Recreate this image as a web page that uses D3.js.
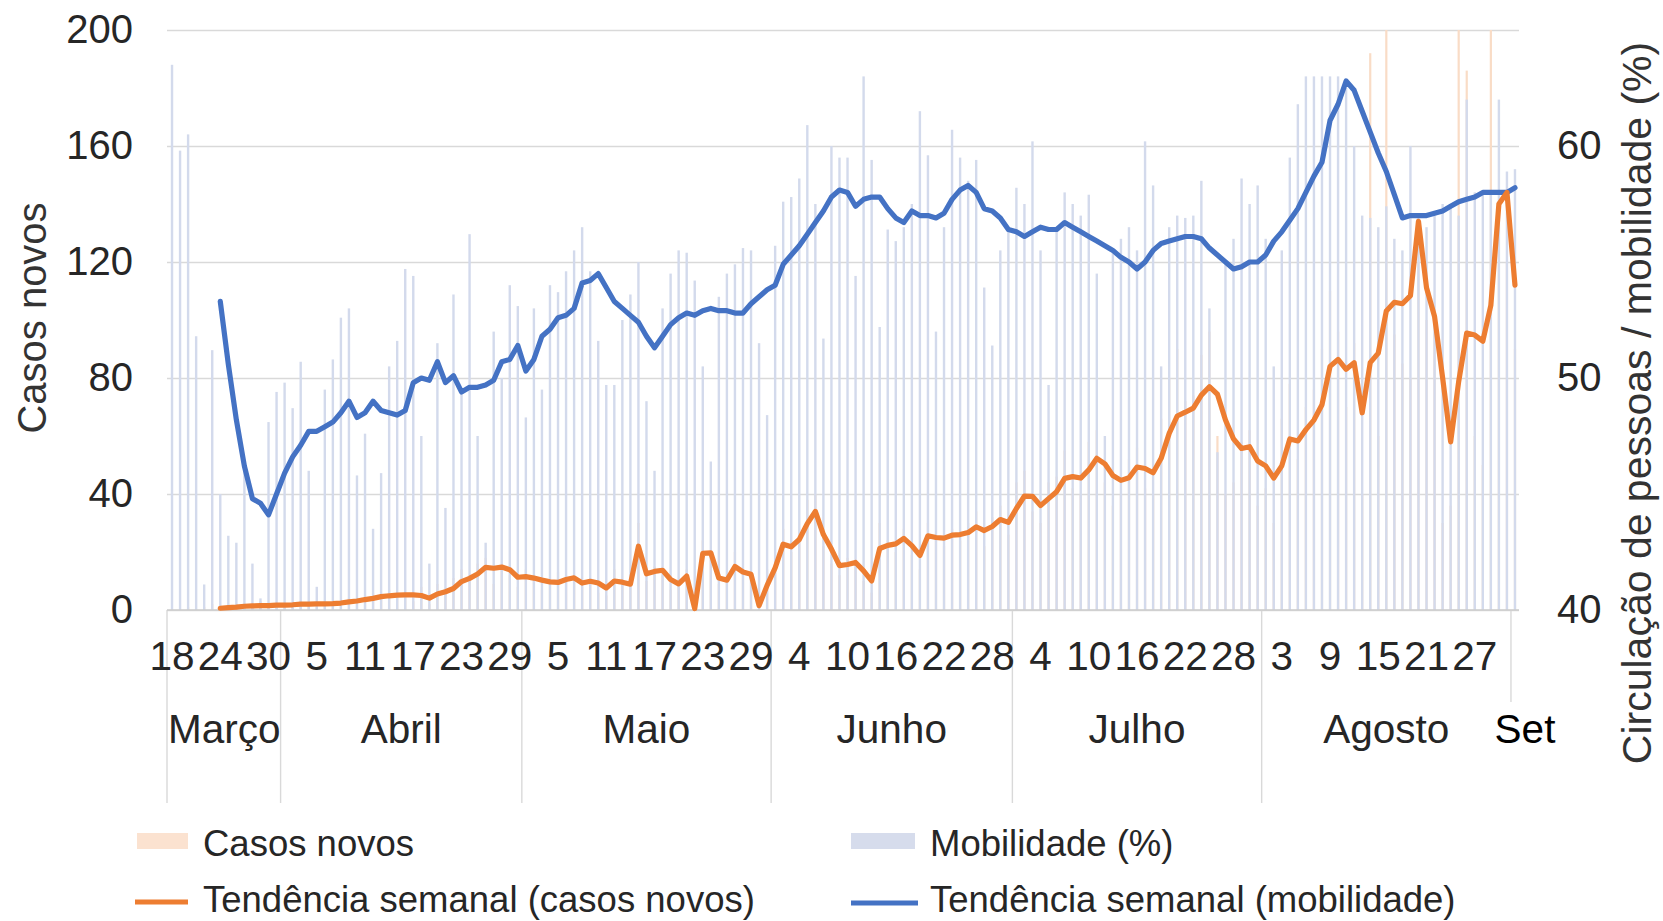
<!DOCTYPE html>
<html>
<head>
<meta charset="utf-8">
<script src="https://cdn.jsdelivr.net/npm/d3@7"></script>
<style>
body { margin: 0; background: #fff; }
text { font-family: "Liberation Sans", Arial, sans-serif; }
</style>
</head>
<body>
<svg id="chart" width="1663" height="921"></svg>
<script>
// daily categories: 18 March .. 1 September
var startDate = new Date(2020, 2, 18);
var nDays = 168;

// mobility (%), right axis, one bar per day
var mobilidade = [
  63.5, 59.8, 60.5, 51.8, 41.1, 51.2, 45.0, 43.2, 42.9, 46.0, 42.0, 40.5, 48.1, 49.4,
  49.8, 48.7, 50.7, 46.0, 41.0, 49.5, 50.8, 52.6, 53.0, 45.8, 47.6, 43.5, 45.9, 50.5,
  51.6, 54.7, 54.4, 47.5, 42.0, 51.5, 44.4, 53.6, 49.5, 56.2, 47.5, 42.9, 52.0, 50.0,
  54.0, 53.1, 48.3, 53.0, 49.5, 54.0, 53.7, 54.6, 55.5, 56.5, 54.6, 51.6, 49.7, 49.7,
  52.5, 53.6, 55.0, 49.0, 46.0, 53.0, 54.5, 55.5, 55.4, 54.2, 50.5, 46.4, 53.5, 54.5,
  54.9, 55.6, 55.5, 51.5, 48.4, 55.7, 57.6, 57.8, 58.6, 60.9, 57.5, 51.7, 60.0, 59.5,
  59.5, 54.4, 63.0, 59.4, 52.2, 56.4, 55.9, 56.5, 57.5, 61.5, 59.6, 52.0, 56.5, 60.7,
  59.5, 58.5, 59.4, 53.9, 51.4, 55.5, 56.5, 58.2, 57.5, 60.2, 55.5, 49.7, 56.5, 58.0,
  57.5, 57.0, 57.9, 54.5, 47.5, 55.5, 56.0, 56.5, 55.5, 60.2, 58.3, 50.5, 56.5, 57.0,
  56.9, 57.0, 58.5, 53.0, 46.8, 55.0, 56.0, 58.6, 57.5, 58.3, 56.0, 50.5, 55.5, 59.5,
  61.8, 63.0, 63.0, 63.0, 63.0, 63.0, 62.5, 60.0, 57.0, 56.9, 56.5, 57.4, 56.0, 55.5,
  60.0, 57.0, 56.5, 57.0, 57.5, 57.5, 57.0, 62.0, 58.0, 58.0, 58.0, 62.0, 58.9, 59.0
];

// new cases, left axis, one bar per day
var casosNovos = [
  0, 0, 1, 0, 1, 2, 1, 0, 2, 1, 2, 3, 1, 2,
  2, 1, 3, 2, 1, 3, 2, 3, 4, 2, 5, 6, 4, 7,
  5, 6, 3, 8, 2, 9, 6, 11, 14, 10, 16, 18, 9, 15,
  12, 8, 14, 10, 7, 9, 13, 12, 10, 8, 11, 6, 5, 14,
  9, 8, 30, 10, 15, 12, 7, 10, 14, 0, 24, 18, 9, 11,
  20, 12, 10, 0, 14, 18, 28, 20, 26, 38, 40, 22, 16, 12,
  18, 15, 10, 6, 30, 24, 20, 28, 19, 14, 30, 26, 22, 28,
  24, 30, 34, 22, 32, 36, 26, 44, 48, 34, 30, 44, 46, 55,
  42, 40, 58, 62, 44, 36, 40, 52, 56, 42, 40, 66, 80, 90,
  72, 74, 88, 96, 60, 40, 44, 58, 62, 36, 42, 30, 66, 78,
  52, 70, 76, 90, 110, 96, 70, 92, 40, 192, 60, 205, 95, 85,
  80, 120, 100, 96, 30, 36, 210, 186, 60, 50, 215, 130, 120, 90
];

// weekly trends start on the 7th day (24 March)
var trendStart = 6;
var tendCasos = [
  0.6, 0.8, 1.0, 1.3, 1.4, 1.5, 1.5, 1.7, 1.7, 1.8, 2.0, 2.0, 2.1, 2.1,
  2.2, 2.4, 2.8, 3.1, 3.6, 4.0, 4.6, 4.9, 5.1, 5.2, 5.2, 5.0, 4.1, 5.5,
  6.3, 7.4, 9.8, 10.9, 12.4, 14.7, 14.4, 14.8, 13.9, 11.3, 11.5, 11.0, 10.3, 9.7,
  9.5, 10.5, 11.1, 9.3, 9.9, 9.3, 7.6, 10.0, 9.6, 8.9, 22.0, 12.5, 13.3, 13.7,
  10.5, 9.0, 11.7, 0.5, 19.5, 19.7, 11.0, 10.3, 15.0, 13.1, 12.3, 1.5, 8.5, 14.5,
  22.7, 21.8, 24.3, 29.8, 34.0, 26.0, 21.0, 15.3, 15.7, 16.4, 13.5, 10.0, 21.2, 22.3,
  22.8, 24.7, 22.2, 18.8, 25.6, 25.0, 24.8, 25.8, 26.0, 26.7, 28.7, 27.4, 28.8, 31.2,
  30.2, 35.0, 39.3, 39.2, 36.0, 38.4, 40.8, 45.4, 46.0, 45.5, 48.3, 52.3, 50.4, 46.4,
  44.7, 45.6, 49.3, 48.8, 47.3, 52.3, 60.9, 66.9, 68.2, 69.6, 74.1, 77.0, 74.4, 65.5,
  59.0, 55.7, 56.3, 51.4, 49.7, 45.5, 49.7, 59.0, 58.3, 62.2, 65.5, 70.8, 84.0, 86.4,
  83.0, 85.3, 68.0, 85.3, 88.6, 103.1, 106.1, 105.6, 108.4, 134.0, 111.1, 101.2, 80.1, 58.0,
  78.8, 95.5, 94.8, 92.7, 105.1, 140.0, 144.0, 112.0
];
var tendMob = [
  53.3, 50.6, 48.2, 46.2, 44.8, 44.6, 44.1, 45.0, 45.9, 46.6, 47.1, 47.7, 47.7, 47.9,
  48.1, 48.5, 49.0, 48.3, 48.5, 49.0, 48.6, 48.5, 48.4, 48.6, 49.8, 50.0, 49.9, 50.7,
  49.8, 50.1, 49.4, 49.6, 49.6, 49.7, 49.9, 50.7, 50.8, 51.4, 50.3, 50.8, 51.8, 52.1,
  52.6, 52.7, 53.0, 54.1, 54.2, 54.5, 53.9, 53.3, 53.0, 52.7, 52.4, 51.8, 51.3, 51.8,
  52.3, 52.6, 52.8, 52.7, 52.9, 53.0, 52.9, 52.9, 52.8, 52.8, 53.2, 53.5, 53.8, 54.0,
  54.9, 55.3, 55.7, 56.2, 56.7, 57.2, 57.8, 58.1, 58.0, 57.4, 57.7, 57.8, 57.8, 57.3,
  56.9, 56.7, 57.2, 57.0, 57.0, 56.9, 57.1, 57.7, 58.1, 58.3, 58.0, 57.3, 57.2, 56.9,
  56.4, 56.3, 56.1, 56.3, 56.5, 56.4, 56.4, 56.7, 56.5, 56.3, 56.1, 55.9, 55.7, 55.5,
  55.2, 55.0, 54.7, 55.0, 55.5, 55.8, 55.9, 56.0, 56.1, 56.1, 56.0, 55.6, 55.3, 55.0,
  54.7, 54.8, 55.0, 55.0, 55.3, 55.9, 56.3, 56.8, 57.3, 58.0, 58.7, 59.3, 61.1, 61.8,
  62.8, 62.4, 61.5, 60.6, 59.7, 58.9, 57.9, 56.9, 57.0, 57.0, 57.0, 57.1, 57.2, 57.4,
  57.6, 57.7, 57.8, 58.0, 58.0, 58.0, 58.0, 58.2
];

// axis labels
var dayTicks = ['18', '24', '30', '5', '11', '17', '23', '29', '5', '11', '17', '23', '29',
  '4', '10', '16', '22', '28', '4', '10', '16', '22', '28', '3', '9', '15', '21', '27'];
var months = ['Março', 'Abril', 'Maio', 'Junho', 'Julho', 'Agosto', 'Set'];
var monthDays = [14, 30, 31, 30, 31, 31, 1];
var leftTicks = [0, 40, 80, 120, 160, 200];
var rightTicks = [40, 50, 60];

var svg = d3.select('#chart');
var pLeft = 168, pRight = 1519, pTop = 30, pBottom = 610;

var days = d3.range(nDays).map(function (i) { return d3.timeDay.offset(startDate, i); });
var x = d3.scaleBand().domain(d3.range(nDays)).range([pLeft, pRight]);
var bw = x.bandwidth();
var cx = function (i) { return x(i) + bw / 2; };
var yL = d3.scaleLinear().domain([0, 200]).range([pBottom, pTop]);
var yR = d3.scaleLinear().domain([40, 65]).range([pBottom, pTop]);

// gridlines + left labels
var gl = svg.append('g').attr('transform', 'translate(167,0)')
  .call(d3.axisLeft(yL).tickValues(leftTicks).tickSize(-(pRight - 167)).tickPadding(34));
gl.select('.domain').remove();
gl.selectAll('line').attr('stroke', '#d9d9d9').attr('stroke-width', 1.4);
gl.selectAll('text').attr('fill', '#262626').style('font-size', '40px');

// right labels
var gr = svg.append('g').attr('transform', 'translate(' + pRight + ',0)')
  .call(d3.axisRight(yR).tickValues(rightTicks).tickSize(0).tickPadding(38));
gr.select('.domain').remove();
gr.selectAll('text').attr('fill', '#262626').style('font-size', '40px');

// month separators
var cum = [0];
monthDays.forEach(function (n, i) { cum.push(cum[i] + n); });
svg.append('g').selectAll('line').data(cum.slice(0, months.length)).enter().append('line')
  .attr('x1', function (d) { return d === 0 ? 167 : x(d); })
  .attr('x2', function (d) { return d === 0 ? 167 : x(d); })
  .attr('y1', pBottom)
  .attr('y2', function (d, i) { return i === months.length - 1 ? 702 : 803; })
  .attr('stroke', '#d9d9d9').attr('stroke-width', 1.4);

// bars
svg.append('clipPath').attr('id', 'plot').append('rect')
  .attr('x', 160).attr('y', pTop).attr('width', pRight - 150).attr('height', pBottom - pTop);
var bars = svg.append('g').attr('clip-path', 'url(#plot)');
bars.selectAll('rect.casos').data(casosNovos).enter().append('rect').attr('class', 'casos')
  .attr('x', function (d, i) { return cx(i) - 1.1; })
  .attr('width', 2.2)
  .attr('y', function (d) { return yL(Math.min(d, 200)); })
  .attr('height', function (d) { return pBottom - yL(Math.min(d, 200)); })
  .attr('fill', '#f9dcc6');
bars.selectAll('rect.mob').data(mobilidade).enter().append('rect').attr('class', 'mob')
  .attr('x', function (d, i) { return cx(i) - 1.2; })
  .attr('width', 2.4)
  .attr('y', function (d) { return yR(d); })
  .attr('height', function (d) { return pBottom - yR(d); })
  .attr('fill', '#d3daec');

// x axis line
svg.append('line').attr('x1', 167).attr('x2', pRight).attr('y1', pBottom).attr('y2', pBottom)
  .attr('stroke', '#cccccc').attr('stroke-width', 1.4);

// trend lines
var lineMob = d3.line().x(function (d, i) { return cx(i + trendStart); }).y(function (d) { return yR(d); });
var lineCasos = d3.line().x(function (d, i) { return cx(i + trendStart); }).y(function (d) { return yL(d); });
svg.append('path').attr('d', lineMob(tendMob)).attr('fill', 'none')
  .attr('stroke', '#4472c4').attr('stroke-width', 5.2).attr('stroke-linejoin', 'round').attr('stroke-linecap', 'round');
svg.append('path').attr('d', lineCasos(tendCasos)).attr('fill', 'none')
  .attr('stroke', '#ed7d31').attr('stroke-width', 5.2).attr('stroke-linejoin', 'round').attr('stroke-linecap', 'round');

// day labels
var gx = svg.append('g').attr('transform', 'translate(0,' + pBottom + ')')
  .call(d3.axisBottom(x).tickValues(d3.range(0, nDays, 6))
    .tickFormat(function (i) { return dayTicks[i / 6]; }).tickSize(0).tickPadding(31));
gx.select('.domain').remove();
gx.selectAll('text').attr('fill', '#262626').style('font-size', '40.5px');

// month labels
svg.append('g').selectAll('text').data(months).enter().append('text')
  .attr('x', function (d, i) {
    if (i === months.length - 1) return 1525;
    return (x(cum[i]) + (cum[i + 1] < nDays ? x(cum[i + 1]) : pRight)) / 2;
  })
  .attr('y', 743)
  .attr('text-anchor', 'middle')
  .attr('fill', function (d, i) { return i === months.length - 1 ? '#000' : '#262626'; })
  .style('font-size', '40.5px')
  .text(function (d) { return d; });

// axis titles
svg.append('text').attr('transform', 'translate(46,318) rotate(-90)')
  .attr('text-anchor', 'middle').attr('fill', '#333').style('font-size', '40px').text('Casos novos');
svg.append('text').attr('transform', 'translate(1651,403) rotate(-90)')
  .attr('text-anchor', 'middle').attr('fill', '#333').style('font-size', '41px')
  .text('Circulação de pessoas / mobilidade (%)');

// legend
var legend = svg.append('g');
legend.append('rect').attr('x', 137).attr('y', 833).attr('width', 51).attr('height', 16).attr('fill', '#fbe2d0');
legend.append('text').attr('x', 203).attr('y', 856).text('Casos novos');
legend.append('line').attr('x1', 135).attr('x2', 188).attr('y1', 902).attr('y2', 902)
  .attr('stroke', '#ed7d31').attr('stroke-width', 5);
legend.append('text').attr('x', 203).attr('y', 912).text('Tendência semanal (casos novos)');
legend.append('rect').attr('x', 851).attr('y', 833).attr('width', 64).attr('height', 16).attr('fill', '#d6dcec');
legend.append('text').attr('x', 930).attr('y', 856).text('Mobilidade (%)');
legend.append('line').attr('x1', 851).attr('x2', 918).attr('y1', 903).attr('y2', 903)
  .attr('stroke', '#4472c4').attr('stroke-width', 5);
legend.append('text').attr('x', 930).attr('y', 912).text('Tendência semanal (mobilidade)');
legend.selectAll('text').attr('fill', '#262626').style('font-size', '36.5px');
</script>
</body>
</html>
